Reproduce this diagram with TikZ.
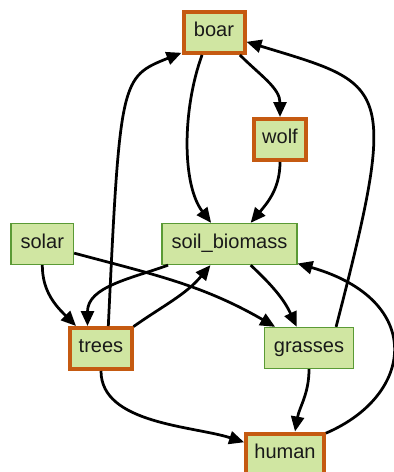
\documentclass[tikz,border=0pt]{standalone}
\usepackage{fontspec}
\setmainfont{Liberation Sans}
\usetikzlibrary{arrows.meta}
\definecolor{leafgreen}{HTML}{D0E6A2}
\definecolor{stemgreen}{HTML}{5A9A35}
\definecolor{rust}{HTML}{C55A11}
\begin{document}
\begin{tikzpicture}[x=0.02cm, y=-0.02cm,
   species/.style={draw=stemgreen, line width=0.75pt, fill=leafgreen,
      inner xsep=0.19cm, inner ysep=0pt, minimum height=0.82cm,
      text height=0.72em, text depth=0.22em,
      font=\fontsize{11.4}{13}\selectfont, text=black!90},
   keystone/.style={species, draw=rust, line width=0.08cm, inner xsep=0.165cm},
   feeds/.style={-{Triangle[length=0.3cm,width=0.26cm]}, line width=0.055cm, black}]
\useasboundingbox (0,0) rectangle (394,472);
\node[keystone, minimum width=1.22cm] (boar) at (214,32.5) {boar};
\node[keystone] (wolf) at (280,139.5) {wolf};
\node[species] (solar) at (42.3,244) {solar};
\node[species] (soil) at (229.5,244) {soil\_biomass};
\node[keystone] (trees) at (101,348.5) {trees};
\node[species] (grasses) at (309,348) {grasses};
\node[keystone] (human) at (285,454) {human};
\draw[feeds] (boar.-41) to[out=-45, in=90] (wolf.north);
\draw[feeds] (boar.-118) .. controls (182,110) and (182,185) .. (soil.131);
\draw[feeds] (wolf.south) to[out=-90, in=50] (soil.45);
\draw[feeds] (trees.72) .. controls (120,78) and (121,77) .. (boar.212);
\draw[feeds] (grasses.38) .. controls (400,80) and (388,85) .. (boar.-16);
\draw[feeds] (solar.south) to[out=-90, in=135] (trees.138);
\draw[feeds] (solar.-16) to[out=-15, in=150] (grasses.148);
\draw[feeds] (soil.-161) to[out=-160, in=90] (trees.121);
\draw[feeds] (trees.34) to[out=35, in=-130] (soil.-132);
\draw[feeds] (soil.-45) to[out=-43, in=115] (grasses.120);
\draw[feeds] (grasses.south) to[out=-90, in=80] (human.66);
\draw[feeds] (trees.south) to[out=-90, in=162, looseness=0.85] (human.164);
\draw[feeds] (human.27) .. controls (415,395) and (425,300) .. (soil.-16);
\end{tikzpicture}
\end{document}
